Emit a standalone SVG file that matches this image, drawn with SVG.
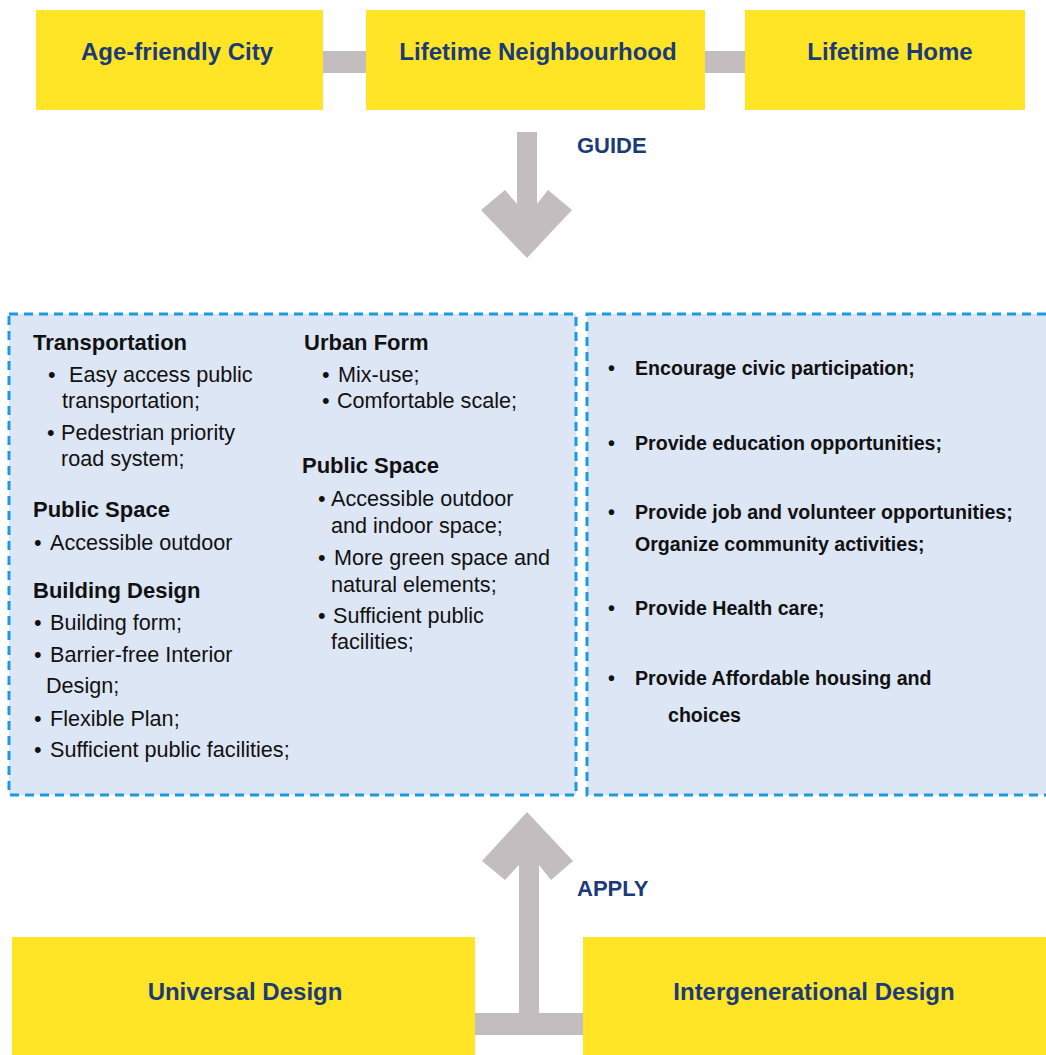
<svg xmlns="http://www.w3.org/2000/svg" width="1046" height="1055" viewBox="0 0 1046 1055">
<style>
.node{fill:#FFE526}
.nt{font-family:"Liberation Sans",Arial,sans-serif;font-weight:bold;font-size:24px;fill:#1B3A78;text-anchor:middle}
.lbl{font-family:"Liberation Sans",Arial,sans-serif;font-weight:bold;font-size:22px;fill:#1B3A78}
.conn{fill:#C3BDBF}
.panel{fill:#DDE6F5;stroke:#1A9BE0;stroke-width:3;stroke-dasharray:9 6}
.h{font-family:"Liberation Sans",Arial,sans-serif;font-weight:bold;font-size:22px;fill:#111}
.b{font-family:"Liberation Sans",Arial,sans-serif;font-size:21.6px;fill:#111}
.rb{font-family:"Liberation Sans",Arial,sans-serif;font-weight:bold;font-size:19.6px;fill:#111}
</style>
<g id="connectors">
<rect class="conn" x="320" y="51" width="50" height="22"/>
<rect class="conn" x="702" y="51" width="46" height="22"/>
<polygon class="conn" points="517,132 537,132 537,204 548,190 572,210 527,258 481,210 505,190 517,204"/>
<rect class="conn" x="472" y="1013" width="114" height="22"/>
<polygon class="conn" points="519,1015 519,865 505,880 482,861 527,812 573,861 551,880 539,865 539,1015"/>
<text class="lbl" x="577" y="153">GUIDE</text>
<text class="lbl" x="577" y="896">APPLY</text>
</g>
<g id="age-friendly-city">
<rect class="node" x="36" y="10" width="287" height="100"/>
<text class="nt" x="177" y="60">Age-friendly City</text>
</g>
<g id="lifetime-neighbourhood">
<rect class="node" x="366" y="10" width="339" height="100"/>
<text class="nt" x="538" y="60">Lifetime Neighbourhood</text>
</g>
<g id="lifetime-home">
<rect class="node" x="745" y="10" width="280" height="100"/>
<text class="nt" x="890" y="60">Lifetime Home</text>
</g>
<g id="physical-panel">
<rect class="panel" x="9" y="314" width="567" height="481"/>
<text class="h" x="33" y="350">Transportation</text>
<text class="b" x="48" y="382">•</text><text class="b" x="69" y="382">Easy access public</text>
<text class="b" x="62" y="408">transportation;</text>
<text class="b" x="47" y="440">•</text><text class="b" x="61" y="440">Pedestrian priority</text>
<text class="b" x="61" y="466">road system;</text>
<text class="h" x="33" y="517">Public Space</text>
<text class="b" x="34" y="550">•</text><text class="b" x="50" y="550">Accessible outdoor</text>
<text class="h" x="33" y="598">Building Design</text>
<text class="b" x="34" y="630">•</text><text class="b" x="50" y="630">Building form;</text>
<text class="b" x="34" y="662">•</text><text class="b" x="50" y="662">Barrier-free Interior</text>
<text class="b" x="46" y="693">Design;</text>
<text class="b" x="34" y="726">•</text><text class="b" x="50" y="726">Flexible Plan;</text>
<text class="b" x="34" y="757">•</text><text class="b" x="50" y="757">Sufficient public facilities;</text>
<text class="h" x="304" y="350">Urban Form</text>
<text class="b" x="322" y="382">•</text><text class="b" x="338" y="382">Mix-use;</text>
<text class="b" x="322" y="408">•</text><text class="b" x="337" y="408">Comfortable scale;</text>
<text class="h" x="302" y="473">Public Space</text>
<text class="b" x="318" y="506">•</text><text class="b" x="331" y="506">Accessible outdoor</text>
<text class="b" x="331" y="533">and indoor space;</text>
<text class="b" x="318" y="565">•</text><text class="b" x="334" y="565">More green space and</text>
<text class="b" x="331" y="592">natural elements;</text>
<text class="b" x="318" y="623">•</text><text class="b" x="333" y="623">Sufficient public</text>
<text class="b" x="331" y="649">facilities;</text>
</g>
<g id="social-panel">
<rect class="panel" x="587" y="314" width="465" height="481"/>
<text class="rb" x="608" y="375">•</text><text class="rb" x="635" y="375">Encourage civic participation;</text>
<text class="rb" x="608" y="450">•</text><text class="rb" x="635" y="450">Provide education opportunities;</text>
<text class="rb" x="608" y="519">•</text><text class="rb" x="635" y="519">Provide job and volunteer opportunities;</text>
<text class="rb" x="635" y="551">Organize community activities;</text>
<text class="rb" x="608" y="615">•</text><text class="rb" x="635" y="615">Provide Health care;</text>
<text class="rb" x="608" y="685">•</text><text class="rb" x="635" y="685">Provide Affordable housing and</text>
<text class="rb" x="668" y="722">choices</text>
</g>
<g id="universal-design">
<rect class="node" x="12" y="937" width="463" height="118"/>
<text class="nt" x="245" y="1000">Universal Design</text>
</g>
<g id="intergenerational-design">
<rect class="node" x="583" y="937" width="463" height="118"/>
<text class="nt" x="814" y="1000">Intergenerational Design</text>
</g>
</svg>
